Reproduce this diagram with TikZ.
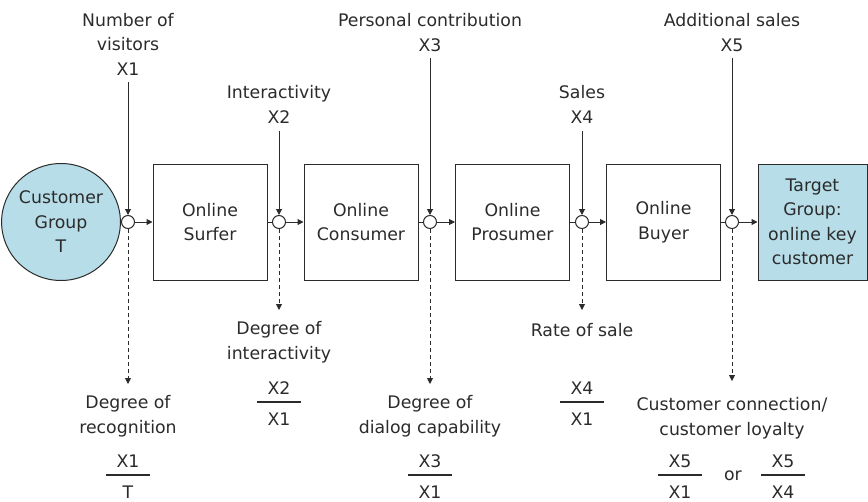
\documentclass[tikz,border=0pt]{standalone}
\usepackage{fontspec}
\setmainfont{DejaVu Sans}
\usetikzlibrary{arrows.meta,shapes.geometric}
\definecolor{lblue}{HTML}{B7DDE8}
\definecolor{ink}{HTML}{2B2B2B}
\newcommand\myfrac[5]{%
  \node[anchor=base] (#1n) at ({#2},{#3-8}) {#4};
  \node[anchor=base] (#1d) at ({#2},{#3+23}) {#5};
  \draw[fracbar] ({#2-22},{#3}) -- ({#2+22},{#3});
}
\begin{document}
\begin{tikzpicture}[x=1pt,y=-1pt,
  every node/.style={font=\fontsize{17.3}{24.5}\selectfont, text=ink, inner sep=0pt, align=center},
  stagebox/.style={draw=ink, line width=1pt, minimum width=114pt, minimum height=116pt},
  junc/.style={circle, draw=ink, line width=1pt, fill=white, minimum size=13pt},
  plain/.style={draw=ink, line width=1pt},
  flow/.style={draw=ink, line width=1pt, -{Triangle[length=6pt,width=6pt]}},
  outarrow/.style={draw=ink, line width=0.9pt, dash pattern=on 4pt off 3pt, -{Triangle[length=6pt,width=6pt]}},
  fracbar/.style={draw=ink, line width=1.2pt},
  lbl/.style={anchor=base}
]
\useasboundingbox (0,0) rectangle (868,501);

% main chain
\node[ellipse, draw=ink, fill=lblue, line width=1pt, minimum width=110pt, minimum height=117pt] (cg) at (61,222) {Customer\\Group\\T};
\node[stagebox] (s1) at (210,222) {Online\\Surfer};
\node[stagebox] (s2) at (361,222) {Online\\Consumer};
\node[stagebox] (s3) at (512.5,222) {Online\\Prosumer};
\node[stagebox] (s4) at (663.5,222) {Online\\Buyer};
\node[stagebox, fill=lblue, minimum width=109pt] (tg) at (812.5,222) {Target\\Group:\\online key\\customer};

\node[junc] (j1) at (128,222) {};
\node[junc] (j2) at (279,222) {};
\node[junc] (j3) at (430,222) {};
\node[junc] (j4) at (582,222) {};
\node[junc] (j5) at (732,222) {};

\draw[plain] (cg.east) -- (j1.west);
\draw[flow] (j1.east) -- (s1.west);
\draw[plain] (s1.east) -- (j2.west);
\draw[flow] (j2.east) -- (s2.west);
\draw[plain] (s2.east) -- (j3.west);
\draw[flow] (j3.east) -- (s3.west);
\draw[plain] (s3.east) -- (j4.west);
\draw[flow] (j4.east) -- (s4.west);
\draw[plain] (s4.east) -- (j5.west);
\draw[flow] (j5.east) -- (tg.west);

% top inputs (anchor = baseline of last line)
\node[lbl] (l1) at (128,75) {Number of\\visitors\\X1};
\node[lbl] (l2) at (279,123) {Interactivity\\X2};
\node[lbl] (l3) at (430,51) {Personal contribution\\X3};
\node[lbl] (l4) at (582,123) {Sales\\X4};
\node[lbl] (l5) at (732,51) {Additional sales\\X5};

\coordinate (i1) at (128,82);
\coordinate (i2) at (279,131);
\coordinate (i3) at (430,58);
\coordinate (i4) at (582,131);
\coordinate (i5) at (732,58);
\draw[flow] (i1) -- (j1.north);
\draw[flow] (i2) -- (j2.north);
\draw[flow] (i3) -- (j3.north);
\draw[flow] (i4) -- (j4.north);
\draw[flow] (i5) -- (j5.north);

% outputs
\coordinate (o1) at (128,384);
\coordinate (o2) at (279,310);
\coordinate (o3) at (430,384);
\coordinate (o4) at (582,310);
\coordinate (o5) at (732,381);
\draw[outarrow] (j1.south) -- (o1);
\draw[outarrow] (j2.south) -- (o2);
\draw[outarrow] (j3.south) -- (o3);
\draw[outarrow] (j4.south) -- (o4);
\draw[outarrow] (j5.south) -- (o5);

\node[lbl] (d1) at (128,433) {Degree of\\recognition};
\node[lbl] (d2) at (279,359) {Degree of\\interactivity};
\node[lbl] (d3) at (430,433) {Degree of\\dialog capability};
\node[lbl] (d4) at (582,336) {Rate of sale};
\node[lbl] (d5) at (732,435) {Customer connection/\\customer loyalty};

\myfrac{fa}{128}{475}{X1}{T}
\myfrac{fb}{279}{402}{X2}{X1}
\myfrac{fc}{430}{475}{X3}{X1}
\myfrac{fd}{582}{402}{X4}{X1}
\myfrac{fe}{680}{475}{X5}{X1}
\node[lbl] (or) at (733,480) {or};
\myfrac{ff}{783}{475}{X5}{X4}
\end{tikzpicture}
\end{document}
